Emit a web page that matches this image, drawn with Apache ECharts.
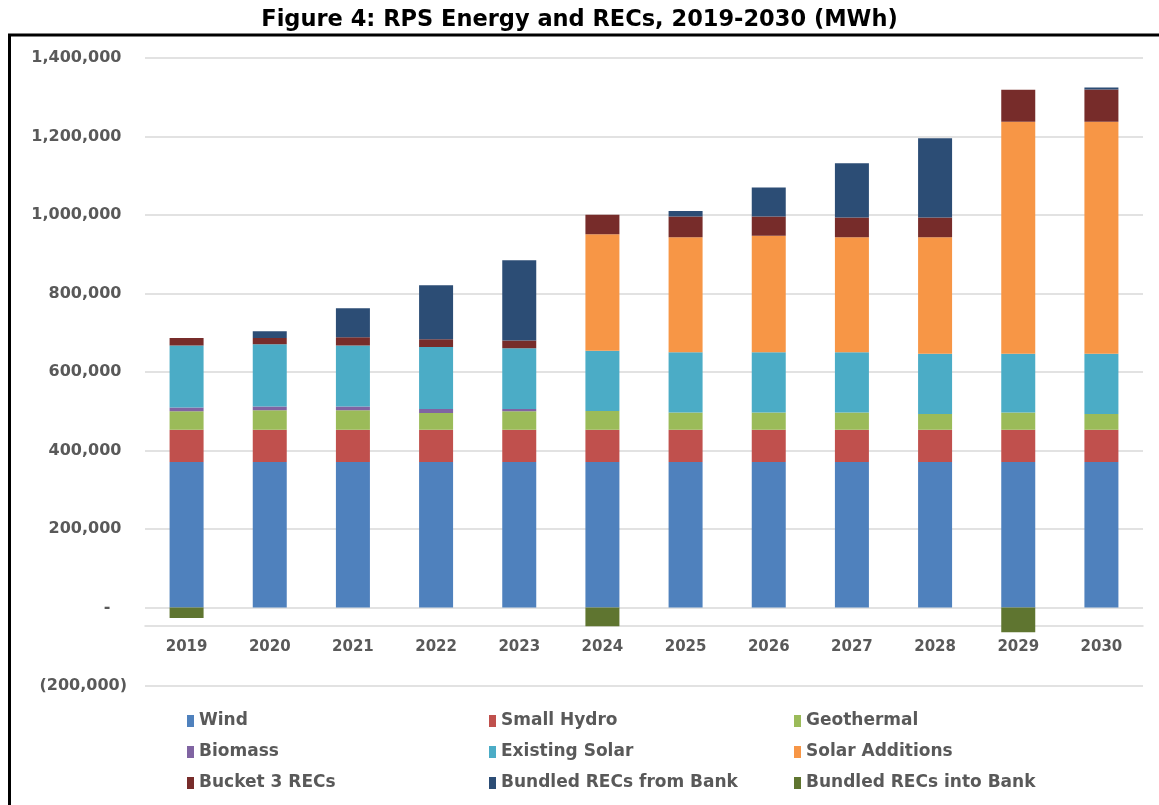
<!DOCTYPE html>
<html>
<head>
<meta charset="utf-8">
<script src="https://cdn.jsdelivr.net/npm/echarts@6/dist/echarts.min.js"></script>
<style>html,body{margin:0;padding:0;background:#fff}#c{width:1159px;height:805px}</style>
</head>
<body>
<div id="c"></div>
<script>
const years = ['2019','2020','2021','2022','2023','2024','2025','2026','2027','2028','2029','2030'];
const wind          = [371000,371000,371000,371000,371000,371000,371000,371000,371000,371000,371000,371000];
const smallHydro    = [82000,82000,82000,82000,82000,82000,82000,82000,82000,82000,82000,82000];
const geothermal    = [47000,49500,49500,42500,47000,47500,44000,44000,43500,40000,43500,40000];
const biomass       = [9400,9400,9400,10200,5900,0,0,0,0,0,0,0];
const existingSolar = [158000,158700,155400,158000,154600,153700,153600,153600,153900,153800,150200,153800];
const solarAdd      = [0,0,0,0,0,296500,293000,296400,293100,296800,590800,590800];
const bucket3       = [19400,16100,21200,19600,19700,50000,52800,49400,50000,50000,81900,81900];
const fromBank      = [0,17100,73800,137500,204500,0,13500,73800,138400,202100,0,5500];
const intoBank      = [-27000,0,0,0,0,-47600,0,0,0,0,-63000,0];
const yTicks = {min:-200000, max:1400000, interval:200000};

const seriesDefs = [
  ['Wind', wind, '#4F81BD'],
  ['Small Hydro', smallHydro, '#C0504D'],
  ['Geothermal', geothermal, '#9BBB59'],
  ['Biomass', biomass, '#8064A2'],
  ['Existing Solar', existingSolar, '#4BACC6'],
  ['Solar Additions', solarAdd, '#F79646'],
  ['Bucket 3 RECs', bucket3, '#772C2A'],
  ['Bundled RECs from Bank', fromBank, '#2C4D75'],
  ['Bundled RECs into Bank', intoBank, '#5F7530']
];

const FONT = 'DejaVu Sans';
const TXT = '#595959';
function fmt(n){ return n.toLocaleString('en-US'); }

const legendCols = [
  ['Wind','Biomass','Bucket 3 RECs'],
  ['Small Hydro','Existing Solar','Bundled RECs from Bank'],
  ['Geothermal','Solar Additions','Bundled RECs into Bank']
];
const legendLeft = [182, 484, 789];

const chart = echarts.init(document.getElementById('c'), null, {renderer:'canvas'});
chart.setOption({
  animation:false,
  backgroundColor:'#fff',
  title:{
    text:'Figure 4: RPS Energy and RECs, 2019-2030 (MWh)',
    left:'center', top:4,
    textStyle:{fontFamily:FONT, fontWeight:'bold', fontSize:22.5, color:'#000'}
  },
  graphic:[{
    type:'rect', silent:true, z:100,
    shape:{x:9.5, y:35, width:1160, height:790},
    style:{fill:'none', stroke:'#000', lineWidth:3}
  }],
  legend: legendCols.map((col,i)=>({
    data: col, orient:'vertical', left: legendLeft[i], top: 706,
    itemWidth:7, itemHeight:12, itemGap:11, icon:'rect',
    textStyle:{fontFamily:FONT, fontWeight:'bold', fontSize:17, color:TXT, lineHeight:20, padding:[0,0,0,0]}
  })),
  grid:{left:145, right:16, top:58, bottom:119, containLabel:false},
  xAxis:{
    type:'category', data: years, position:'bottom', offset:-60,
    axisLine:{onZero:false, lineStyle:{color:'#d9d9d9', width:1.5}},
    axisTick:{show:false},
    axisLabel:{fontFamily:FONT, fontWeight:'bold', fontSize:15, color:TXT, margin:14}
  },
  yAxis:{
    type:'value', min:yTicks.min, max:yTicks.max, interval:yTicks.interval,
    axisLine:{show:false}, axisTick:{show:false},
    splitLine:{lineStyle:{color:'#d9d9d9', width:1.5}},
    axisLabel:{
      fontFamily:FONT, fontWeight:'bold', fontSize:16, color:TXT, margin:18,
      formatter:v=> v===0 ? '-   ' : (v<0 ? '('+fmt(-v)+')' : fmt(v)+' ')
    }
  },
  series: seriesDefs.map(([name,data,color])=>({
    name, type:'bar', stack:'total', data, barWidth:34,
    itemStyle:{color}
  }))
});
</script>
</body>
</html>
